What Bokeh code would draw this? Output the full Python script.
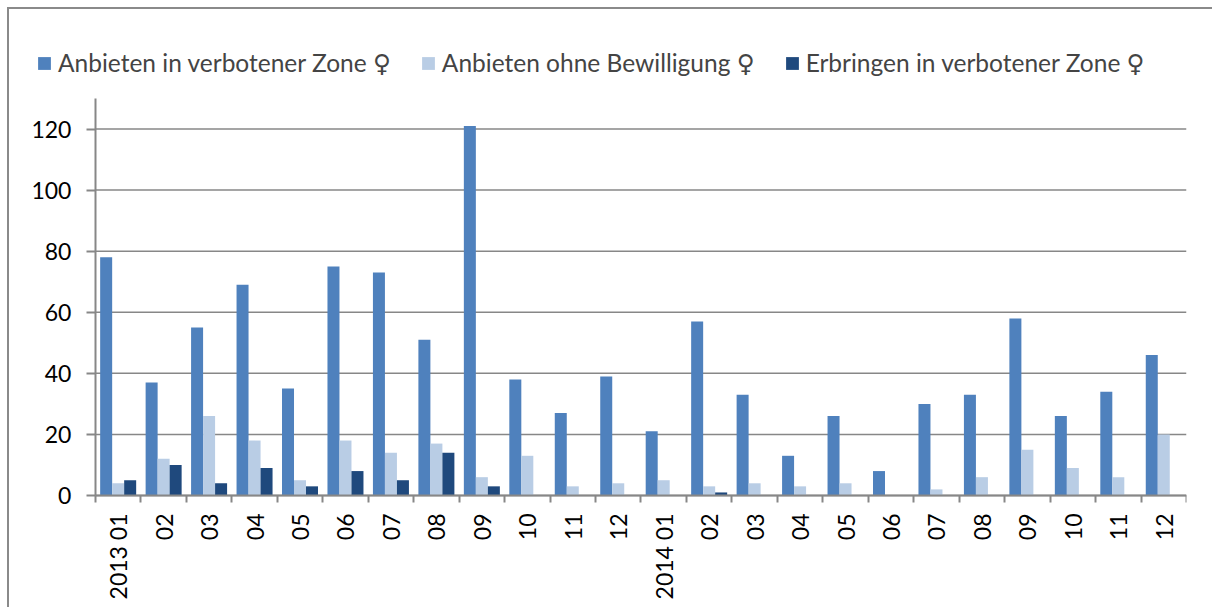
import math
from bokeh.plotting import figure
from bokeh.models import ColumnDataSource, Range1d, FixedTicker, Legend, LegendItem
from bokeh.transform import dodge
from bokeh.embed import file_html
from bokeh.resources import INLINE

# ---- data ----
tick_labels = ["2013 01", "02", "03", "04", "05", "06", "07", "08", "09", "10", "11", "12",
               "2014 01", "02", "03", "04", "05", "06", "07", "08", "09", "10", "11", "12"]
anbieten_verboten = [78, 37, 55, 69, 35, 75, 73, 51, 121, 38, 27, 39,
                     21, 57, 33, 13, 26, 8, 30, 33, 58, 26, 34, 46]
anbieten_ohne_bew = [4, 12, 26, 18, 5, 18, 14, 17, 6, 13, 3, 4,
                     5, 3, 4, 3, 4, 0, 2, 6, 15, 9, 6, 20]
erbringen_verboten = [5, 10, 4, 9, 3, 8, 5, 14, 3, 0, 0, 0,
                      0, 1, 0, 0, 0, 0, 0, 0, 0, 0, 0, 0]
series_names = ["Anbieten in verbotener Zone \u2640",
                "Anbieten ohne Bewilligung \u2640",
                "Erbringen in verbotener Zone \u2640"]
y_ticks = [0, 20, 40, 60, 80, 100, 120]
y_axis_max = 130
colors = ["#4F81BD", "#B9CDE5", "#1F497D"]

n = len(tick_labels)
idx = list(range(n))
src = ColumnDataSource(dict(x=idx, a=anbieten_verboten, b=anbieten_ohne_bew, c=erbringen_verboten))

FONT = "Lato, 'DejaVu Sans'"
GRAY = "#878787"

# the frame covers the whole canvas; both axes are pinned inside it
px_per_cat = 45.5
px_per_unit = (495 - 98) / y_axis_max
x_lo = -0.5 - 75 / px_per_cat
y_lo = -(609 - 495) / px_per_unit
y_hi = (495 - 39) / px_per_unit

p = figure(width=1205, height=600, output_backend="svg", toolbar_location=None,
           x_range=Range1d(x_lo, n - 0.5), y_range=Range1d(y_lo, y_hi),
           min_border_left=11, min_border_right=28, min_border_top=30, min_border_bottom=0)
p.styles = {"margin-left": "7px", "margin-top": "7px",
            "border-left": "2px solid #8a8a8a", "border-top": "2px solid #8a8a8a"}
p.outline_line_color = None
p.background_fill_color = "white"
p.xgrid.grid_line_color = None
p.ygrid.grid_line_color = None

# horizontal gridlines at the tick values, limited to the category span
p.segment(x0=[-0.5] * len(y_ticks), x1=[n - 0.5] * len(y_ticks), y0=y_ticks, y1=y_ticks,
          line_color=GRAY, line_width=1.5)

bw = 0.264
r1 = p.vbar(x=dodge("x", -bw, range=p.x_range), top="a", width=bw, source=src, fill_color=colors[0], line_color=None)
r2 = p.vbar(x=dodge("x", 0, range=p.x_range), top="b", width=bw, source=src, fill_color=colors[1], line_color=None)
r3 = p.vbar(x=dodge("x", bw, range=p.x_range), top="c", width=bw, source=src, fill_color=colors[2], line_color=None)

# y axis pinned at the left edge of the categories
p.yaxis.fixed_location = -0.5
p.yaxis.bounds = (0, y_axis_max)
p.yaxis.ticker = FixedTicker(ticks=y_ticks)
p.yaxis.axis_line_color = GRAY
p.yaxis.axis_line_width = 2
p.yaxis.major_tick_line_color = GRAY
p.yaxis.major_tick_line_width = 2
p.yaxis.major_tick_out = 9
p.yaxis.major_tick_in = 0
p.yaxis.minor_tick_line_color = None
p.yaxis.major_label_standoff = 15
p.yaxis.major_label_text_font = FONT
p.yaxis.major_label_text_font_size = "23px"
p.yaxis.major_label_text_color = "black"

# x axis pinned at y = 0
p.xaxis.fixed_location = 0
p.xaxis.bounds = (-0.5, n - 0.5)
p.xaxis.ticker = FixedTicker(ticks=idx, minor_ticks=[i - 0.5 for i in range(n + 1)])
p.xaxis.major_label_overrides = {i: lab for i, lab in enumerate(tick_labels)}
p.xaxis.major_label_orientation = math.pi / 2
p.xaxis.axis_line_color = GRAY
p.xaxis.axis_line_width = 2
p.xaxis.major_tick_line_color = None
p.xaxis.minor_tick_line_color = GRAY
p.xaxis.minor_tick_line_width = 2
p.xaxis.minor_tick_out = 7
p.xaxis.minor_tick_in = 0
p.xaxis.major_label_standoff = 11
p.xaxis.major_label_text_font = FONT
p.xaxis.major_label_text_font_size = "23px"
p.xaxis.major_label_text_color = "black"

legend = Legend(items=[LegendItem(label=series_names[0], renderers=[r1]),
                       LegendItem(label=series_names[1], renderers=[r2]),
                       LegendItem(label=series_names[2], renderers=[r3])],
                orientation="horizontal", location=(16, 531),
                glyph_width=16, glyph_height=16, label_standoff=6, spacing=29,
                padding=0, margin=0, border_line_color=None, background_fill_alpha=0,
                label_text_font=FONT, label_text_font_size="24.5px", label_height=20)
p.add_layout(legend, "center")

open("out.html", "w").write(file_html(p, INLINE))
